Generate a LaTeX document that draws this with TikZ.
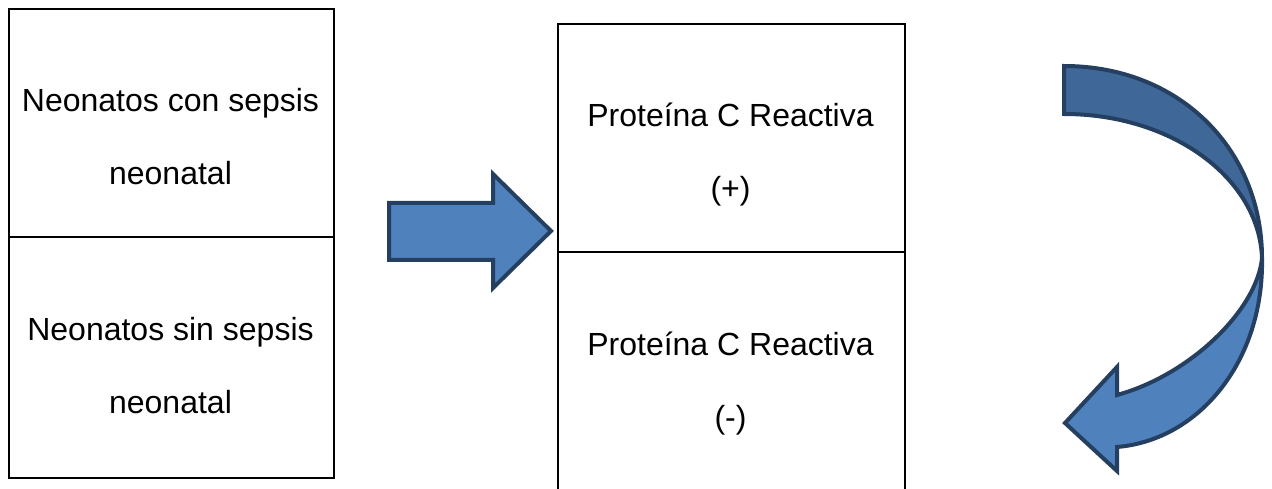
\documentclass[tikz,border=0pt]{standalone}
\usepackage{fontspec}
\setmainfont{Liberation Sans}
\definecolor{arrfill}{HTML}{4F81BD}
\definecolor{arrdark}{HTML}{3F6797}
\definecolor{arrline}{HTML}{243F60}
\begin{document}
\begin{tikzpicture}[x=1pt,y=-1pt,
  cell/.style={draw=black,line width=2pt,inner sep=0pt,anchor=north west},
  txt/.style={anchor=base,inner sep=0pt,font=\fontsize{32}{38}\selectfont},
  shape arrow/.style={draw=arrline,line width=4pt,line join=miter,fill=arrfill}]
\useasboundingbox (0,0) rectangle (1272,489);
\clip (0,0) rectangle (1272,489);
% left column
\node[cell,minimum width=325pt,minimum height=228pt] (c1) at (8,8) {};
\node[cell,minimum width=325pt,minimum height=241pt] (c2) at (8,236) {};
\node[txt] (t1a) at (170.5,112) {Neonatos con sepsis};
\node[txt] (t1b) at (170.5,185) {neonatal};
\node[txt] (t2a) at (170.5,340) {Neonatos sin sepsis};
\node[txt] (t2b) at (170.5,413) {neonatal};
% middle column
\node[cell,minimum width=347pt,minimum height=228pt] (m1) at (557,23) {};
\node[cell,minimum width=347pt,minimum height=260pt] (m2) at (557,251) {};
\node[txt] (p1a) at (730.5,127) {Proteína C Reactiva};
\node[txt] (p1b) at (730.5,200) {(+)};
\node[txt] (p2a) at (730.5,355) {Proteína C Reactiva};
\node[txt] (p2b) at (730.5,428) {(-)};
% straight arrow
\draw[shape arrow] (389,203) -- (493,203) -- (493,174) -- (551,231) -- (493,288)
  -- (493,260) -- (389,260) -- cycle;
% curved arrow: upper (back) part
\draw[shape arrow,fill=arrdark] (1064,66) .. controls (1180,66) and (1262,150) .. (1262,258)
  .. controls (1259,178) and (1172,114) .. (1064,114) -- cycle;
% curved arrow: lower part with head
\draw[shape arrow] (1262,258) .. controls (1264,360) and (1200,440) .. (1117,447)
  -- (1117,471) -- (1065,423) -- (1117,367) -- (1117,395)
  .. controls (1190,375) and (1257,310) .. (1262,258) -- cycle;
\end{tikzpicture}
\end{document}
